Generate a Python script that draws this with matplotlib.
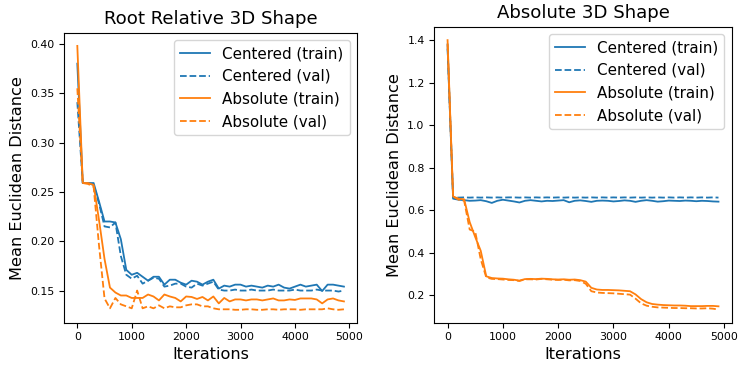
import numpy as np
import matplotlib
matplotlib.use("Agg")
import matplotlib.pyplot as plt

iterations = np.arange(0, 5000, 100)

# Root Relative 3D Shape
rr_centered_train = [0.380, 0.259, 0.259, 0.259, 0.240, 0.220, 0.220, 0.219, 0.202, 0.171,
                     0.166, 0.168, 0.164, 0.160, 0.164, 0.164, 0.156, 0.161, 0.161, 0.158,
                     0.156, 0.160, 0.159, 0.156, 0.159, 0.161, 0.152, 0.155, 0.154, 0.156,
                     0.156, 0.154, 0.155, 0.154, 0.153, 0.155, 0.154, 0.156, 0.153, 0.152,
                     0.154, 0.156, 0.154, 0.155, 0.156, 0.1495, 0.156, 0.156, 0.155, 0.154]
rr_centered_val = [0.341, 0.259, 0.259, 0.257, 0.238, 0.215, 0.214, 0.219, 0.185, 0.166,
                   0.162, 0.165, 0.157, 0.160, 0.163, 0.162, 0.154, 0.155, 0.157, 0.157,
                   0.154, 0.153, 0.157, 0.155, 0.157, 0.159, 0.151, 0.150, 0.150, 0.151,
                   0.150, 0.150, 0.151, 0.150, 0.150, 0.150, 0.151, 0.150, 0.150, 0.150,
                   0.151, 0.150, 0.150, 0.150, 0.151, 0.150, 0.150, 0.150, 0.149, 0.150]
rr_absolute_train = [0.398, 0.259, 0.259, 0.257, 0.221, 0.182, 0.153, 0.148, 0.145, 0.145,
                     0.1425, 0.1425, 0.1425, 0.146, 0.144, 0.140, 0.146, 0.144, 0.1425, 0.139,
                     0.144, 0.1435, 0.1415, 0.1435, 0.140, 0.144, 0.137, 0.1425, 0.139, 0.141,
                     0.141, 0.140, 0.141, 0.141, 0.140, 0.141, 0.142, 0.140, 0.140, 0.141,
                     0.1405, 0.142, 0.142, 0.142, 0.141, 0.137, 0.141, 0.142, 0.140, 0.139]
rr_absolute_val = [0.355, 0.259, 0.258, 0.255, 0.195, 0.142, 0.132, 0.1425, 0.136, 0.134,
                   0.132, 0.150, 0.132, 0.134, 0.132, 0.135, 0.132, 0.134, 0.133, 0.133,
                   0.135, 0.136, 0.136, 0.134, 0.134, 0.132, 0.131, 0.131, 0.131, 0.1305,
                   0.1305, 0.131, 0.131, 0.1305, 0.1305, 0.131, 0.131, 0.1305, 0.131, 0.131,
                   0.131, 0.1305, 0.131, 0.131, 0.131, 0.131, 0.132, 0.131, 0.1305, 0.131]

# Absolute 3D Shape
ab_centered_train = [1.38, 0.655, 0.650, 0.648, 0.645, 0.646, 0.648, 0.643, 0.635, 0.645,
                     0.650, 0.646, 0.642, 0.637, 0.645, 0.648, 0.645, 0.642, 0.645, 0.644,
                     0.646, 0.648, 0.638, 0.645, 0.647, 0.644, 0.640, 0.645, 0.646, 0.645,
                     0.642, 0.644, 0.647, 0.645, 0.640, 0.645, 0.648, 0.645, 0.641, 0.643,
                     0.646, 0.645, 0.644, 0.646, 0.645, 0.643, 0.645, 0.644, 0.642, 0.641]
ab_centered_val = [1.36, 0.661, 0.660, 0.661, 0.660, 0.661, 0.660, 0.661, 0.660, 0.661,
                   0.660, 0.661, 0.661, 0.660, 0.661, 0.660, 0.661, 0.660, 0.661, 0.660,
                   0.661, 0.660, 0.661, 0.660, 0.661, 0.660, 0.661, 0.660, 0.661, 0.660,
                   0.661, 0.660, 0.661, 0.660, 0.661, 0.660, 0.661, 0.660, 0.661, 0.660,
                   0.661, 0.660, 0.661, 0.660, 0.661, 0.660, 0.661, 0.660, 0.661, 0.660]
ab_absolute_train = [1.40, 0.665, 0.655, 0.652, 0.545, 0.475, 0.410, 0.290, 0.282, 0.280,
                     0.279, 0.276, 0.274, 0.270, 0.277, 0.278, 0.277, 0.279, 0.278, 0.276,
                     0.275, 0.276, 0.274, 0.275, 0.272, 0.265, 0.236, 0.228, 0.226, 0.226,
                     0.225, 0.224, 0.222, 0.220, 0.205, 0.183, 0.168, 0.160, 0.157, 0.155,
                     0.154, 0.153, 0.153, 0.152, 0.150, 0.150, 0.150, 0.151, 0.151, 0.149]
ab_absolute_val = [1.38, 0.665, 0.650, 0.645, 0.510, 0.500, 0.370, 0.285, 0.278, 0.277,
                   0.275, 0.273, 0.272, 0.268, 0.276, 0.276, 0.275, 0.278, 0.276, 0.274,
                   0.273, 0.274, 0.271, 0.272, 0.268, 0.255, 0.220, 0.214, 0.212, 0.211,
                   0.210, 0.208, 0.206, 0.204, 0.185, 0.163, 0.152, 0.147, 0.144, 0.143,
                   0.142, 0.141, 0.141, 0.140, 0.140, 0.139, 0.139, 0.140, 0.138, 0.134]

titles = ["Root Relative 3D Shape", "Absolute 3D Shape"]
legend_labels = ["Centered (train)", "Centered (val)", "Absolute (train)", "Absolute (val)"]
xlabel = "Iterations"
ylabel = "Mean Euclidean Distance"

blue = "#1f77b4"
orange = "#ff7f0e"

fig = plt.figure(figsize=(7.38, 3.65), dpi=100)
ax1 = fig.add_axes([0.0867, 0.1151, 0.3974, 0.7953])
ax2 = fig.add_axes([0.5881, 0.1151, 0.4038, 0.8118])

panels = [
    (ax1, rr_centered_train, rr_centered_val, rr_absolute_train, rr_absolute_val),
    (ax2, ab_centered_train, ab_centered_val, ab_absolute_train, ab_absolute_val),
]
lw = 1.3
for (ax, ct, cv, at, av), title in zip(panels, titles):
    ax.plot(iterations, ct, color=blue, lw=lw, label=legend_labels[0])
    ax.plot(iterations, cv, color=blue, lw=lw, ls="--", label=legend_labels[1])
    ax.plot(iterations, at, color=orange, lw=lw, label=legend_labels[2])
    ax.plot(iterations, av, color=orange, lw=lw, ls="--", label=legend_labels[3])
    ax.set_title(title, fontsize=13.1)
    ax.set_xlabel(xlabel, fontsize=11.6, labelpad=3)
    ax.set_ylabel(ylabel, fontsize=11.6)
    ax.tick_params(labelsize=7.9, length=3.3)
    ax.set_xticks([0, 1000, 2000, 3000, 4000, 5000])
    ax.legend(loc="upper right", fontsize=10.9)

ax2.set_yticks([0.2, 0.4, 0.6, 0.8, 1.0, 1.2, 1.4])

fig.savefig("out.png", dpi=100)
